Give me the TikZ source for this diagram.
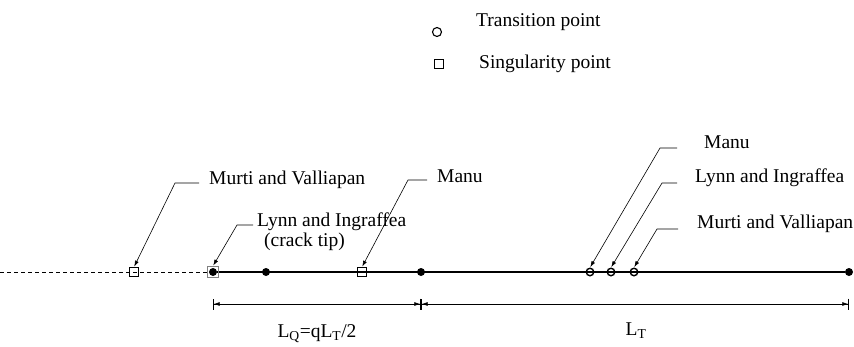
\documentclass[tikz,border=0pt]{standalone}
\usepackage{fontspec}
\setmainfont{Liberation Serif}
\usetikzlibrary{arrows.meta,positioning}

\begin{document}
\begin{tikzpicture}[
  x=1pt, y=-1pt,
  lbl/.style={anchor=base west, inner sep=0pt, font=\fontsize{19.5}{20}\selectfont},
  dimlbl/.style={anchor=base, inner sep=0pt, font=\fontsize{19.5}{20}\selectfont},
  sing/.style={draw, line width=1.4pt, minimum size=8.5pt, inner sep=0pt},
  trans/.style={draw, circle, line width=1.4pt, minimum size=7.5pt, inner sep=0pt},
  knot/.style={circle, fill, minimum size=8pt, inner sep=0pt},
  lead/.style={-{Latex[length=6pt,width=4pt]}, line width=0.6pt, shorten >=0.5pt},
  dim/.style={{Bar[width=11pt]Latex[length=6pt,width=4pt]}-{Latex[length=6pt,width=4pt]Bar[width=11pt]},
              line width=0.7pt}
]
\useasboundingbox (0,0) rectangle (854,346);

% legend
\node[trans, line width=1.1pt, minimum size=9pt] (legT) at (437,32) {};
\node[lbl] (legTtxt) at (476,26) {Transition point};
\node[sing, line width=1.1pt, minimum size=9.5pt] (legS) at (439,64) {};
\node[lbl] (legStxt) at (479,68) {Singularity point};

% line and points
\coordinate (lineStart) at (0,272);
\node[knot] (knot0) at (213,272) {};
\node[knot] (knot1) at (266,272) {};
\node[knot] (knot2) at (421,272) {};
\node[knot] (knot3) at (849,272) {};
\draw[line width=0.9pt, dash pattern=on 4pt off 3pt] (lineStart) -- (knot0);
\draw[line width=1.9pt] (knot0) -- (knot3);

\node[sing] (sqMV) at (134,272) {};
\node[sing, draw=gray, line width=1.1pt, minimum size=11pt] (sqLI) at (213,272) {};
\node[sing] (sqMA) at (362,272) {};
\node[trans] (ciMA) at (590,272) {};
\node[trans] (ciLI) at (611,272) {};
\node[trans] (ciMV) at (634,272) {};

% labels with leaders
\node[lbl] (mvL) at (209,184) {Murti and Valliapan};
\node[lbl] (liL) at (257,226) {Lynn and Ingraffea};
\node[lbl] (ctL) at (264,246) {(crack tip)};
\node[lbl] (maL) at (437,182) {Manu};
\node[lbl] (maR) at (704,148) {Manu};
\node[lbl] (liR) at (695,182) {Lynn and Ingraffea};
\node[lbl] (mvR) at (697,228) {Murti and Valliapan};

\draw[lead] ([xshift=-10pt,yshift=1pt]mvL.base west) -- ++(-24,0) -- (sqMV.north);
\draw[lead] ([xshift=-4pt,yshift=1pt]liL.base west) -- ++(-16,0) -- (sqLI.north);
\draw[lead] ([xshift=-10pt,yshift=2pt]maL.base west) -- ++(-19,0) -- (sqMA.north);
\draw[lead] ([xshift=-27pt]maR.base west) -- ++(-17,0) -- (ciMA.north);
\draw[lead] ([xshift=-18pt,yshift=-1pt]liR.base west) -- ++(-15,0) -- (ciLI.north);
\draw[lead] ([xshift=-19pt,yshift=-1pt]mvR.base west) -- ++(-21,0) -- (ciMV.north);

% dimensions
\coordinate (dA) at (213,304);
\coordinate (dB) at (421,304);
\coordinate (dC) at (849,304);
\draw[dim] (dA) -- (dB);
\draw[dim] (dB) -- (dC);
\node[dimlbl] (lq) at (317,337) {L\textsubscript{Q}=qL\textsubscript{T}/2};
\node[dimlbl] (lt) at (636,335) {L\textsubscript{T}};
\end{tikzpicture}
\end{document}
